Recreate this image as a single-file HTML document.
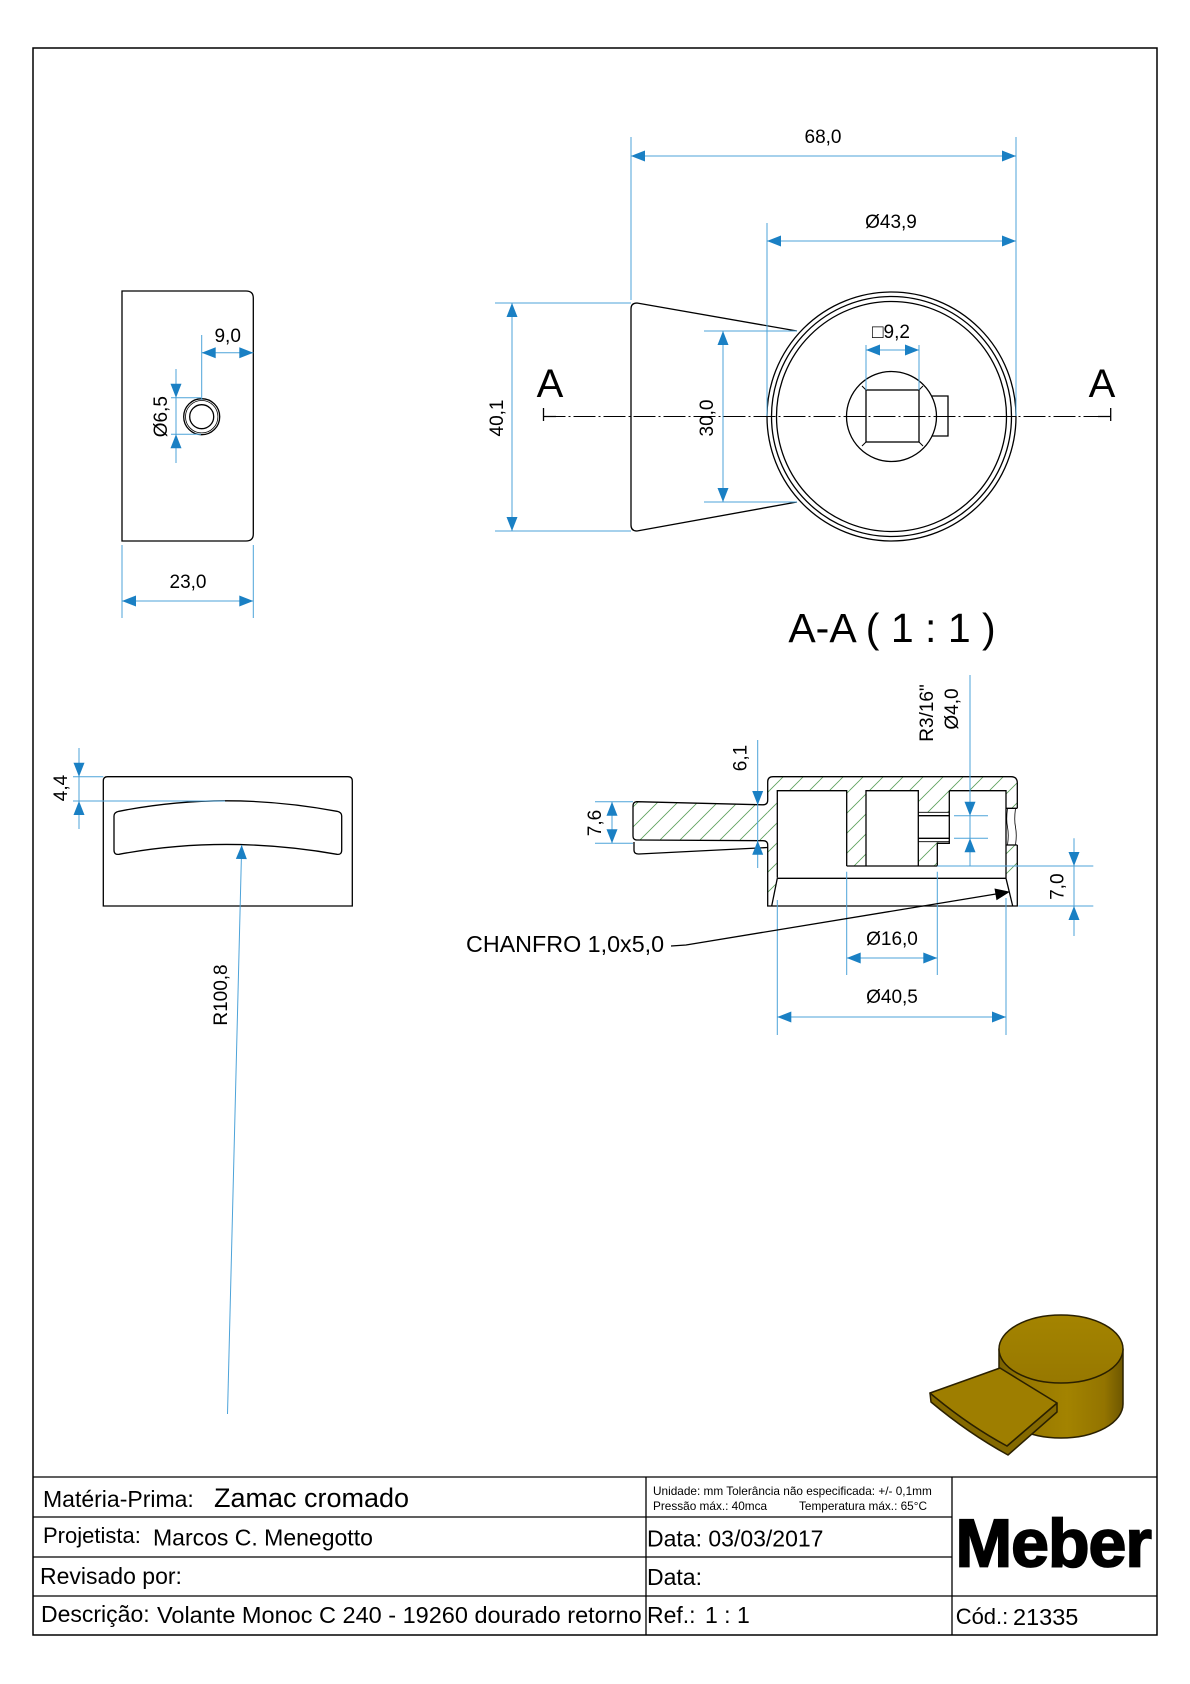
<!DOCTYPE html>
<html>
<head>
<meta charset="utf-8">
<style>
  html,body{margin:0;padding:0;background:#fff;}
  svg{display:block;}
  text{font-family:"Liberation Sans",Arial,"DejaVu Sans",sans-serif;fill:#000;}
  .d{font-size:19px;}
</style>
</head>
<body>
<svg width="1190" height="1684" viewBox="0 0 1190 1684" xmlns="http://www.w3.org/2000/svg">
<defs>
  <path id="a" d="M0,0 L14,-5.5 L14,5.5 Z" fill="#1a80c4"/>
  <pattern id="h" width="20" height="20" patternUnits="userSpaceOnUse">
    <path d="M-5,5 L5,-5 M0,20 L20,0 M15,25 L25,15" stroke="#5aa05a" stroke-width="0.8"/>
  </pattern>
  <linearGradient id="cyl" x1="0" x2="1" y1="0" y2="0">
    <stop offset="0" stop-color="#7a6100"/>
    <stop offset="0.2" stop-color="#967700"/>
    <stop offset="0.55" stop-color="#a38300"/>
    <stop offset="0.85" stop-color="#937400"/>
    <stop offset="1" stop-color="#6e5700"/>
  </linearGradient>
  <linearGradient id="top" x1="0" x2="0" y1="0" y2="1">
    <stop offset="0" stop-color="#a48400"/>
    <stop offset="1" stop-color="#977800"/>
  </linearGradient>
</defs>

<rect x="0" y="0" width="1190" height="1684" fill="#fff"/>

<!-- border -->
<rect x="33" y="48" width="1124" height="1587" fill="none" stroke="#000" stroke-width="1.5"/>

<!-- ============ SIDE VIEW (top-left) ============ -->
<g fill="none" stroke="#000" stroke-width="1.3">
  <path d="M122,291 H246 Q253.3,291 253.3,298 V534 Q253.3,541 246,541 H122 Z"/>
  <circle cx="201.7" cy="416.7" r="18"/>
  <circle cx="201.7" cy="416.7" r="16.2" stroke-width="0.8"/>
  <circle cx="201.7" cy="416.7" r="12"/>
</g>
<g stroke="#4da3d9" stroke-width="1" fill="none">
  <path d="M201.7,335 V400"/>
  <path d="M201.7,352.7 H253.3"/>
  <path d="M171,397.7 H201"/>
  <path d="M171,434.3 H201"/>
  <path d="M176,369 V463"/>
  <path d="M122,545 V618 M253.3,545 V618"/>
  <path d="M122,601 H253.3"/>
</g>
<use href="#a" transform="translate(201.7,352.7)"/>
<use href="#a" transform="translate(253.3,352.7) rotate(180)"/>
<use href="#a" transform="translate(176,397.7) rotate(-90)"/>
<use href="#a" transform="translate(176,434.3) rotate(90)"/>
<use href="#a" transform="translate(122,601)"/>
<use href="#a" transform="translate(253.3,601) rotate(180)"/>
<text class="d" x="227.7" y="342" text-anchor="middle">9,0</text>
<text class="d" transform="translate(160,416.7) rotate(-90)" y="6.8" text-anchor="middle">Ø6,5</text>
<text class="d" x="188" y="588" text-anchor="middle">23,0</text>

<!-- ============ FRONT VIEW (top-right) ============ -->
<g fill="none" stroke="#000" stroke-width="1.3">
  <path d="M797,331 L637,303 Q631,303 631,309 V525 Q631,531 637,531 L797,502"/>
  <circle cx="891.5" cy="416.5" r="124.5"/>
  <circle cx="891.5" cy="416.5" r="120"/>
  <circle cx="891.5" cy="416.5" r="115"/>
  <circle cx="891.5" cy="416.5" r="45"/>
  <rect x="866" y="390" width="53" height="52"/>
  <path d="M866,390 l-4,-4 M919,390 l4,-4 M866,442 l-4,4 M919,442 l4,4" stroke-width="1"/>
  <path d="M932,396 H948 V436 H932"/>
</g>
<!-- centerline -->
<path d="M543.5,416.5 H1110.7" stroke="#000" stroke-width="1" stroke-dasharray="22 3 2 3"/>
<path d="M543.5,408 V421 M543.5,416.5 H556 M1110.7,408 V421 M1110.7,416.5 H1098" stroke="#000" stroke-width="1.3" fill="none"/>
<text x="550" y="397" font-size="40" text-anchor="middle">A</text>
<text x="1102" y="397" font-size="40" text-anchor="middle">A</text>
<g stroke="#4da3d9" stroke-width="1" fill="none">
  <path d="M631,137 V300"/>
  <path d="M1016,137 V416"/>
  <path d="M631,156 H1016"/>
  <path d="M767,223 V416"/>
  <path d="M767,241 H1016"/>
  <path d="M866,345 V390 M919,345 V390"/>
  <path d="M866,350 H919"/>
  <path d="M495,303 H631 M495,531 H631"/>
  <path d="M512,303 V531"/>
  <path d="M704,331 H797 M704,502 H797"/>
  <path d="M723,331 V502"/>
</g>
<use href="#a" transform="translate(631,156)"/>
<use href="#a" transform="translate(1016,156) rotate(180)"/>
<use href="#a" transform="translate(767,241)"/>
<use href="#a" transform="translate(1016,241) rotate(180)"/>
<use href="#a" transform="translate(866,350)"/>
<use href="#a" transform="translate(919,350) rotate(180)"/>
<use href="#a" transform="translate(512,303) rotate(90)"/>
<use href="#a" transform="translate(512,531) rotate(-90)"/>
<use href="#a" transform="translate(723,331) rotate(90)"/>
<use href="#a" transform="translate(723,502) rotate(-90)"/>
<text class="d" x="823" y="143" text-anchor="middle">68,0</text>
<text class="d" x="891" y="228" text-anchor="middle">Ø43,9</text>
<text class="d" x="891" y="338" text-anchor="middle">□9,2</text>
<text class="d" transform="translate(496,418) rotate(-90)" y="6.8" text-anchor="middle">40,1</text>
<text class="d" transform="translate(706,418) rotate(-90)" y="6.8" text-anchor="middle">30,0</text>

<!-- ============ SECTION A-A ============ -->
<text x="892" y="642" font-size="41" text-anchor="middle">A-A ( 1 : 1 )</text>

<!-- hatched regions -->
<g fill="url(#h)" stroke="none">
  <rect x="767.7" y="776.7" width="249.6" height="14"/>
  <path d="M767.7,790.7 H777.3 V877.7 L771.7,906 H767.7 Z"/>
  <rect x="846.7" y="790.7" width="19.3" height="75.3"/>
  <rect x="918.3" y="790.7" width="31" height="21.6"/>
  <path d="M918.3,841.7 H949.3 V843.3 H937.3 V866 H918.3 Z"/>
  <rect x="1006" y="790.7" width="11.3" height="17.6"/>
  <rect x="1006" y="845" width="11.3" height="33"/>
  <path d="M637,801.7 L763,804.5 L767.7,800 V845 L763,840.7 L637,840 Q633,840 633,836 V806 Q633,801.7 637,801.7 Z"/>
</g>

<g fill="none" stroke="#000" stroke-width="1.3">
  <!-- outer -->
  <path d="M767.7,800 V782 Q767.7,776.7 773,776.7 H1011 Q1017.3,776.7 1017.3,783 V808.3"/>
  <path d="M1017.3,845 V906 H767.7 V845"/>
  <path d="M767.7,800 Q767.7,804.8 763,804.8 L637,801.7 Q633,801.7 633,806 V836 Q633,840 637,840 L763,840.7 Q767.7,840.7 767.7,845"/>
  <path d="M634,842 V850 Q634,854.3 639,854 L767.7,847.5"/>
  <!-- cavities -->
  <path d="M777.3,877.7 V790.7 H846.7 V866"/>
  <path d="M866,866 V790.7 H918.3 V866"/>
  <path d="M846.7,866 H937.3"/>
  <path d="M949.3,790.7 V843.3 H937.3 V866"/>
  <path d="M949.3,790.7 H1006 V878.3"/>
  <path d="M777.3,878.3 H1006"/>
  <path d="M777.3,878.3 L771.7,906 M1006,878.3 L1012.7,906"/>
  <path d="M918.3,815.7 H949.3 M918.3,838.3 H949.3"/>
  <path d="M1006,808.3 H1017.3 M1006,845 H1017.3"/>
</g>
<g fill="none" stroke="#000" stroke-width="0.8">
  <path d="M918.3,812.3 H949.3 M918.3,841.7 H949.3"/>
  <path d="M1007.5,808.3 Q1006,820 1007.5,827 Q1009,835 1007.5,845"/>
  <path d="M1015.5,808.3 Q1014,820 1015.5,827 Q1017,835 1015.5,845"/>
</g>

<!-- section dims -->
<g stroke="#4da3d9" stroke-width="1" fill="none">
  <path d="M757.7,740 V868"/>
  <path d="M595,801.7 H633 M595,843.3 H633"/>
  <path d="M612,801.7 V843.3"/>
  <path d="M970,675 V866"/>
  <path d="M954,815.7 H988 M954,838.3 H988"/>
  <path d="M1074,838.3 V936"/>
  <path d="M937.3,866 H1093.3 M1018.3,906 H1093.3"/>
  <path d="M846.7,871.7 V975 M937.3,871.7 V975"/>
  <path d="M846.7,958 H937.3"/>
  <path d="M777.3,900 V1035 M1006,898 V1035"/>
  <path d="M777.3,1017 H1006"/>
</g>
<use href="#a" transform="translate(757.7,805) rotate(-90)"/>
<use href="#a" transform="translate(757.7,840.7) rotate(90)"/>
<use href="#a" transform="translate(612,801.7) rotate(90)"/>
<use href="#a" transform="translate(612,843.3) rotate(-90)"/>
<use href="#a" transform="translate(970,815.7) rotate(-90)"/>
<use href="#a" transform="translate(970,838.3) rotate(90)"/>
<use href="#a" transform="translate(1074,866) rotate(-90)"/>
<use href="#a" transform="translate(1074,906) rotate(90)"/>
<use href="#a" transform="translate(846.7,958)"/>
<use href="#a" transform="translate(937.3,958) rotate(180)"/>
<use href="#a" transform="translate(777.3,1017)"/>
<use href="#a" transform="translate(1006,1017) rotate(180)"/>
<text class="d" transform="translate(739.5,758) rotate(-90)" y="6.8" text-anchor="middle">6,1</text>
<text class="d" transform="translate(594,823) rotate(-90)" y="6.8" text-anchor="middle">7,6</text>
<text class="d" transform="translate(926,713) rotate(-90)" y="6.8" text-anchor="middle">R3/16"</text>
<text class="d" transform="translate(951,709) rotate(-90)" y="6.8" text-anchor="middle">Ø4,0</text>
<text class="d" transform="translate(1056.7,886.7) rotate(-90)" y="6.8" text-anchor="middle">7,0</text>
<text class="d" x="892" y="945" text-anchor="middle">Ø16,0</text>
<text class="d" x="892" y="1003" text-anchor="middle">Ø40,5</text>

<!-- chanfro leader -->
<text x="466" y="952" font-size="23.3">CHANFRO 1,0x5,0</text>
<path d="M671,946 L686,945 L996,894" fill="none" stroke="#000" stroke-width="1.3"/>
<path d="M1010,891.7 L994.5,888.5 L996.5,900.3 Z" fill="#000"/>

<!-- ============ TOP VIEW (left-middle) ============ -->
<g fill="none" stroke="#000" stroke-width="1.3">
  <path d="M103.3,906 V781 Q103.3,776.7 107.6,776.7 H348 Q352.3,776.7 352.3,781 V906 Z"/>
  <path d="M119,811.3 Q225,790.3 337,811.3 Q341.7,812.3 341.7,816 V850 Q341.7,855 337,854.3 Q225,834.6 119,854.3 Q114,855 114,850 V816 Q114,812.3 119,811.3 Z"/>
</g>
<g stroke="#4da3d9" stroke-width="1" fill="none">
  <path d="M79,748 V829"/>
  <path d="M73,776.7 H103.3 M73,801 H225"/>
  <path d="M241.7,845 L227.5,1414"/>
</g>
<use href="#a" transform="translate(79,776.7) rotate(-90)"/>
<use href="#a" transform="translate(79,801) rotate(90)"/>
<use href="#a" transform="translate(241.7,845) rotate(91.4)"/>
<text class="d" transform="translate(60,788) rotate(-90)" y="6.8" text-anchor="middle">4,4</text>
<text class="d" transform="translate(220,995) rotate(-90)" y="6.8" text-anchor="middle">R100,8</text>

<!-- ============ 3D ICON ============ -->
<g stroke="#2a2000" stroke-width="1.5" stroke-linejoin="round">
  <path d="M999,1349 V1404 A62,34 0 0 0 1123,1404 V1349 Z" fill="url(#cyl)"/>
  <ellipse cx="1061" cy="1349" rx="62" ry="34" fill="url(#top)"/>
  <path d="M930,1393 Q968,1425 1007,1446 L1057,1403 V1412 L1008,1455 Q968,1433 931,1402 Z" fill="#846900"/>
  <path d="M930,1393 L1000,1368 L1057,1403 L1007,1446 Q968,1425 930,1393 Z" fill="#9e7e00"/>
</g>

<!-- ============ TITLE BLOCK ============ -->
<g stroke="#000" stroke-width="1.3" fill="none">
  <path d="M33,1477 H1157"/>
  <path d="M33,1517 H952 M33,1557 H952"/>
  <path d="M33,1596 H1157"/>
  <path d="M646,1477 V1635 M952,1477 V1635"/>
</g>
<text x="43" y="1507" font-size="23">Matéria-Prima:</text>
<text x="214" y="1507" font-size="27">Zamac cromado</text>
<text x="43" y="1543" font-size="22">Projetista:</text>
<text x="153" y="1545.5" font-size="23">Marcos C. Menegotto</text>
<text x="40" y="1584" font-size="23">Revisado por:</text>
<text x="41" y="1622" font-size="23">Descrição:</text>
<text x="157" y="1623" font-size="23.5">Volante Monoc C 240 - 19260 dourado retorno</text>

<text x="653" y="1495" font-size="11.8">Unidade: mm Tolerância não especificada: +/- 0,1mm</text>
<text x="653" y="1510" font-size="11.8">Pressão máx.: 40mca</text>
<text x="799" y="1510" font-size="11.8">Temperatura máx.: 65°C</text>
<text x="647" y="1546.7" font-size="23">Data: 03/03/2017</text>
<text x="647" y="1585" font-size="23">Data:</text>
<text x="647" y="1623" font-size="23">Ref.:</text>
<text x="705" y="1623" font-size="23">1 : 1</text>

<text x="955.5" y="1566.7" font-size="68" font-weight="bold" letter-spacing="-1" stroke="#000" stroke-width="1.8">Meber</text>
<text x="955.7" y="1624" font-size="22">Cód.:</text>
<text x="1013" y="1625" font-size="23.5">21335</text>
</svg>
</body>
</html>
